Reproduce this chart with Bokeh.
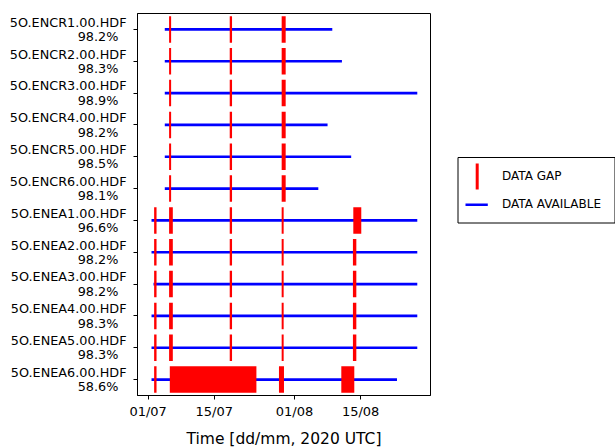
import pandas as pd
from bokeh.plotting import figure
from bokeh.models import Range1d, FixedTicker, DatetimeTickFormatter, ColumnDataSource
from bokeh.layouts import row
from bokeh.embed import file_html
from bokeh.resources import INLINE
from bokeh.core.properties import value

FONT = "DejaVu Sans"

# ---------------- data ----------------
stations = ["5O.ENCR1.00.HDF", "5O.ENCR2.00.HDF", "5O.ENCR3.00.HDF",
            "5O.ENCR4.00.HDF", "5O.ENCR5.00.HDF", "5O.ENCR6.00.HDF",
            "5O.ENEA1.00.HDF", "5O.ENEA2.00.HDF", "5O.ENEA3.00.HDF",
            "5O.ENEA4.00.HDF", "5O.ENEA5.00.HDF", "5O.ENEA6.00.HDF"]
coverage = [98.2, 98.3, 98.9, 98.2, 98.5, 98.1,
            96.6, 98.2, 98.2, 98.3, 98.3, 58.6]

avail_start = ["2020-07-04 12:40"] * 6 + ["2020-07-01 17:15", "2020-07-01 17:15",
               "2020-07-02 03:20", "2020-07-01 17:15", "2020-07-01 17:15",
               "2020-07-01 17:15"]
avail_end = ["2020-08-09 00:00", "2020-08-11 01:00", "2020-08-27 00:00",
             "2020-08-08 00:00", "2020-08-13 00:00", "2020-08-06 01:00",
             "2020-08-27 00:00", "2020-08-27 00:00", "2020-08-27 00:00",
             "2020-08-27 00:00", "2020-08-27 00:00", "2020-08-22 16:50"]

# gaps shared by all ENCR channels
encr_gaps = [("2020-07-05 10:35", "2020-07-05 20:50"),
             ("2020-07-18 06:45", "2020-07-18 18:30"),
             ("2020-07-29 06:45", "2020-07-30 03:05")]
# gaps shared by ENEA1..ENEA5
enea_gaps = [("2020-07-02 06:30", "2020-07-02 18:45"),
             ("2020-07-05 10:35", "2020-07-06 05:30"),
             ("2020-07-18 06:45", "2020-07-18 18:30"),
             ("2020-07-29 06:45", "2020-07-29 16:50")]
enea1_extra = [("2020-08-13 10:50", "2020-08-15 03:20")]
enea2to5_extra = [("2020-08-13 08:55", "2020-08-14 02:10")]
enea6_gaps = [("2020-07-02 06:30", "2020-07-02 18:45"),
              ("2020-07-05 14:10", "2020-07-23 22:20"),
              ("2020-07-28 17:00", "2020-07-29 18:30"),
              ("2020-08-10 21:50", "2020-08-13 15:50")]

tick_dates = ["2020-07-01", "2020-07-15", "2020-08-01", "2020-08-15"]
x_start, x_end = "2020-06-28 18:00", "2020-08-29 19:10"
legend_labels = ["DATA GAP", "DATA AVAILABLE"]

# ---------------- build sources ----------------
rows = list(range(1, len(stations) + 1))
avail_src = ColumnDataSource(dict(
    x0=pd.to_datetime(avail_start), x1=pd.to_datetime(avail_end), y=rows))

g_left, g_right, g_row = [], [], []
for i, st in enumerate(stations):
    if "ENCR" in st:
        gl = encr_gaps
    elif st.startswith("5O.ENEA6"):
        gl = enea6_gaps
    elif st.startswith("5O.ENEA1"):
        gl = enea_gaps + enea1_extra
    else:
        gl = enea_gaps + enea2to5_extra
    for s, e in gl:
        g_left.append(pd.Timestamp(s))
        g_right.append(pd.Timestamp(e))
        g_row.append(i + 1)
half_h = 0.415
gap_src = ColumnDataSource(dict(left=g_left, right=g_right,
                                top=[r - half_h for r in g_row],
                                bottom=[r + half_h for r in g_row]))

# ---------------- main figure ----------------
p = figure(x_axis_type="datetime",
           x_range=Range1d(pd.Timestamp(x_start), pd.Timestamp(x_end)),
           y_range=Range1d(len(stations) + 0.5, 0.5),
           frame_width=293, frame_height=382,
           min_border_left=137, min_border_right=20,
           min_border_top=13, min_border_bottom=53,
           toolbar_location=None, output_backend="svg",
           background_fill_color="white", border_fill_color="white")
p.grid.visible = False
p.outline_line_color = "black"
p.outline_line_width = 1

p.segment(x0="x0", x1="x1", y0="y", y1="y", source=avail_src,
          line_color="#0000ff", line_width=2.6)
p.quad(left="left", right="right", top="top", bottom="bottom", source=gap_src,
       fill_color="#ff0000", line_color=None)

ticks_ms = [pd.Timestamp(d).value / 1e6 for d in tick_dates]
p.xaxis.ticker = FixedTicker(ticks=ticks_ms)
p.xaxis.formatter = DatetimeTickFormatter(days="%d/%m", months="%d/%m",
                                          hours="%d/%m")
p.xaxis.minor_tick_line_color = None
p.xaxis.axis_label = "Time [dd/mm, 2020 UTC]"
p.xaxis.axis_label_text_font = FONT
p.xaxis.axis_label_text_font_size = "15.5px"
p.xaxis.axis_label_text_font_style = "normal"
p.xaxis.axis_label_text_color = "black"
p.xaxis.axis_label_standoff = 8
p.xaxis.major_label_standoff = 4

p.yaxis.ticker = FixedTicker(ticks=rows)
p.yaxis.minor_tick_line_color = None
p.yaxis.major_label_overrides = {
    r: f"{st}\n{c:.1f}%\u00a0\u00a0" for r, st, c in zip(rows, stations, coverage)}
p.yaxis.major_label_standoff = 7
p.yaxis.major_label_text_line_height = 0.95

for ax in (p.xaxis, p.yaxis):
    ax.major_label_text_font = FONT
    ax.major_label_text_font_size = "13px"
    ax.major_label_text_color = "black"
    ax.major_tick_out = 4
    ax.major_tick_in = 0
    ax.major_tick_line_color = "black"
    ax.axis_line_color = "black"
p.yaxis.major_label_text_font_size = "12.8px"

# ---------------- legend panel ----------------
lg = figure(title=None, frame_width=165, frame_height=448,
            x_range=Range1d(450, 615), y_range=Range1d(460, 12),
            min_border=0, toolbar_location=None, output_backend="svg",
            x_axis_location=None, y_axis_location=None,
            outline_line_color=None, border_fill_color="white")
lg.grid.visible = False
lg.quad(left=[457.5], right=[614.5], top=[156], bottom=[221.5],
        fill_color="white", line_color="black", line_width=1)
lg.segment(x0=[476.7], x1=[476.7], y0=[162], y1=[188],
           line_color="#ff0000", line_width=3)
lg.segment(x0=[465], x1=[487.3], y0=[203.3], y1=[203.3],
           line_color="#0000ff", line_width=2.5)
lg.text(x=[501.5, 501.5], y=[174.7, 202.8], text=legend_labels,
        text_font=value(FONT), text_font_size="12px",
        text_baseline="middle", text_align="left", text_color="black")

layout = row(p, lg)
open("out.html", "w").write(file_html(layout, INLINE))
